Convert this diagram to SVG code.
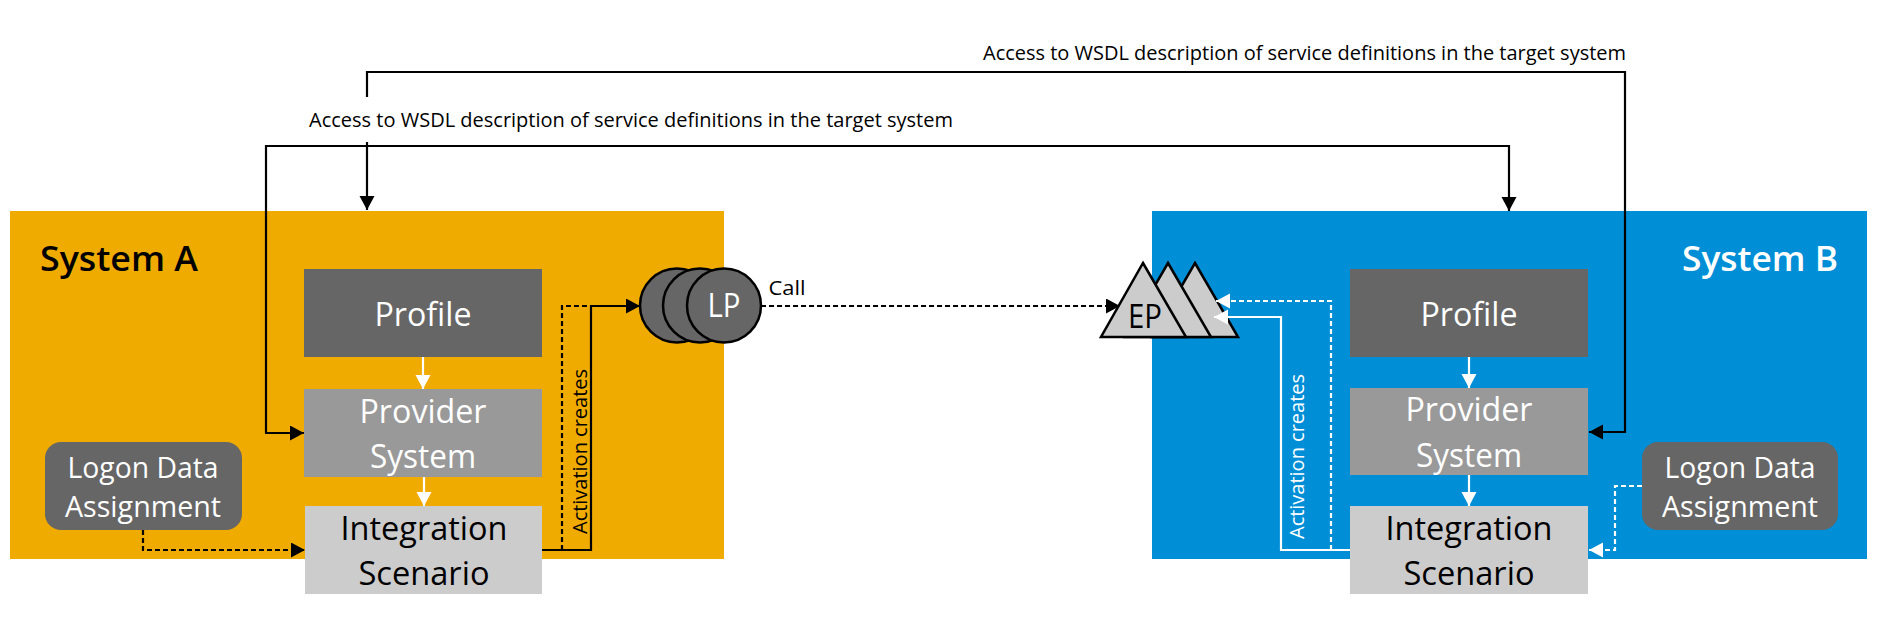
<svg xmlns="http://www.w3.org/2000/svg" width="1893" height="622" viewBox="0 0 1893 622">
<style>
text{font-family:"Open Sans","Noto Sans","Liberation Sans",sans-serif;text-anchor:middle}
.box{font-size:32px}
.logon{font-size:29px}
.lbl{font-size:20px}
.w{fill:#fff}.k{fill:#000}
.c{fill:none;stroke-width:2.200}
.s{stroke:#000}.v{stroke:#fff}
.d{stroke-dasharray:5 3}
.sym{stroke:#000;stroke-width:2.500}
</style>
<defs>
<marker id="ak" markerUnits="userSpaceOnUse" markerWidth="16" markerHeight="16" refX="14" refY="7.500" orient="auto"><path d="M0 0L14 7.500L0 15z" fill="#000"/></marker>
<marker id="aw" markerUnits="userSpaceOnUse" markerWidth="16" markerHeight="16" refX="14" refY="7.500" orient="auto"><path d="M0 0L14 7.500L0 15z" fill="#fff"/></marker>
</defs>
<g id="system-a"><rect x="10" y="211" width="714" height="348" fill="#f0ab00"/><text x="119" y="271" font-size="34" font-weight="600" class="k" textLength="158" lengthAdjust="spacingAndGlyphs">System A</text></g>
<g id="system-b"><rect x="1152" y="211" width="715" height="348" fill="#008fd6"/><text x="1760" y="271" font-size="34" font-weight="600" class="w" textLength="156" lengthAdjust="spacingAndGlyphs">System B</text></g>
<g id="profile-a"><rect x="304" y="269" width="238" height="88" fill="#666"/><text x="423" y="326" class="box w" textLength="97" lengthAdjust="spacingAndGlyphs">Profile</text></g>
<g id="provider-a"><rect x="304" y="389" width="238" height="88" fill="#999"/><text x="423" y="423" class="box w" textLength="127" lengthAdjust="spacingAndGlyphs">Provider</text><text x="423" y="468" class="box w" textLength="106" lengthAdjust="spacingAndGlyphs">System</text></g>
<g id="integration-a"><rect x="305" y="506" width="237" height="88" fill="#ccc"/><text x="424" y="540" class="box k" textLength="167" lengthAdjust="spacingAndGlyphs">Integration</text><text x="424" y="585" class="box k" textLength="131" lengthAdjust="spacingAndGlyphs">Scenario</text></g>
<g id="logon-a"><rect x="45" y="442" width="197" height="88" rx="16" fill="#666"/><text x="143" y="478" class="logon w" textLength="151" lengthAdjust="spacingAndGlyphs">Logon Data</text><text x="143" y="517" class="logon w" textLength="156" lengthAdjust="spacingAndGlyphs">Assignment</text></g>
<g id="lp"><circle cx="677" cy="305.500" r="37" fill="#666" class="sym"/><circle cx="700" cy="305.500" r="37" fill="#666" class="sym"/><circle cx="724" cy="305.500" r="37" fill="#666" class="sym"/><text x="724" y="317" font-size="32" class="w" textLength="33" lengthAdjust="spacingAndGlyphs">LP</text></g>
<g id="profile-b"><rect x="1350" y="269" width="238" height="88" fill="#666"/><text x="1469" y="326" class="box w" textLength="97" lengthAdjust="spacingAndGlyphs">Profile</text></g>
<g id="provider-b"><rect x="1350" y="388" width="238" height="87" fill="#999"/><text x="1469" y="421" class="box w" textLength="127" lengthAdjust="spacingAndGlyphs">Provider</text><text x="1469" y="467" class="box w" textLength="106" lengthAdjust="spacingAndGlyphs">System</text></g>
<g id="integration-b"><rect x="1350" y="506" width="238" height="88" fill="#ccc"/><text x="1469" y="540" class="box k" textLength="167" lengthAdjust="spacingAndGlyphs">Integration</text><text x="1469" y="585" class="box k" textLength="131" lengthAdjust="spacingAndGlyphs">Scenario</text></g>
<g id="logon-b"><rect x="1642" y="442" width="196" height="88" rx="16" fill="#666"/><text x="1740" y="478" class="logon w" textLength="151" lengthAdjust="spacingAndGlyphs">Logon Data</text><text x="1740" y="517" class="logon w" textLength="156" lengthAdjust="spacingAndGlyphs">Assignment</text></g>
<g id="ep"><path d="M1195 263L1238 337H1152z" fill="#ccc" class="sym"/><path d="M1168 263L1211 337H1125z" fill="#ccc" class="sym"/><path d="M1143 263L1186 337H1101z" fill="#ccc" class="sym"/><text x="1145" y="328" font-size="32" class="k" textLength="34" lengthAdjust="spacingAndGlyphs">EP</text></g>
<g id="connectors">
<path class="c s" d="M367 97V72H1625V432H1589" marker-end="url(#ak)"/>
<path class="c s" d="M367 142V210" marker-end="url(#ak)"/>
<path class="c s" d="M266 433V146H1509V211" marker-end="url(#ak)"/>
<path class="c s" d="M265 433H304" marker-end="url(#ak)"/>
<path class="c v" d="M423 357V389" marker-end="url(#aw)"/>
<path class="c v" d="M424 477V506" marker-end="url(#aw)"/>
<path class="c v" d="M1469 357V388" marker-end="url(#aw)"/>
<path class="c v" d="M1469 475V506" marker-end="url(#aw)"/>
<path class="c s d" d="M143 530V550H305" marker-end="url(#ak)"/>
<path class="c s d" d="M562 550V306H591"/>
<path class="c s" d="M542 550H591V306H640" marker-end="url(#ak)"/>
<path class="c s d" d="M761 306H1120" marker-end="url(#ak)"/>
<path class="c v" d="M1350 550H1281V317H1214" marker-end="url(#aw)"/>
<path class="c v d" d="M1331 550V301H1216" marker-end="url(#aw)"/>
<path class="c v d" d="M1642 486H1615V550H1589" marker-end="url(#aw)"/>
</g>
<g id="labels">
<text x="1304.500" y="60" class="lbl k" textLength="643" lengthAdjust="spacingAndGlyphs">Access to WSDL description of service definitions in the target system</text>
<text x="631" y="127" class="lbl k" textLength="644" lengthAdjust="spacingAndGlyphs">Access to WSDL description of service definitions in the target system</text>
<text x="787" y="295" class="lbl k" textLength="37" lengthAdjust="spacingAndGlyphs">Call</text>
<text transform="translate(587 451.500) rotate(-90)" class="lbl k" textLength="165" lengthAdjust="spacingAndGlyphs">Activation creates</text>
<text transform="translate(1304 456.500) rotate(-90)" class="lbl w" textLength="165" lengthAdjust="spacingAndGlyphs">Activation creates</text>
</g>
</svg>
